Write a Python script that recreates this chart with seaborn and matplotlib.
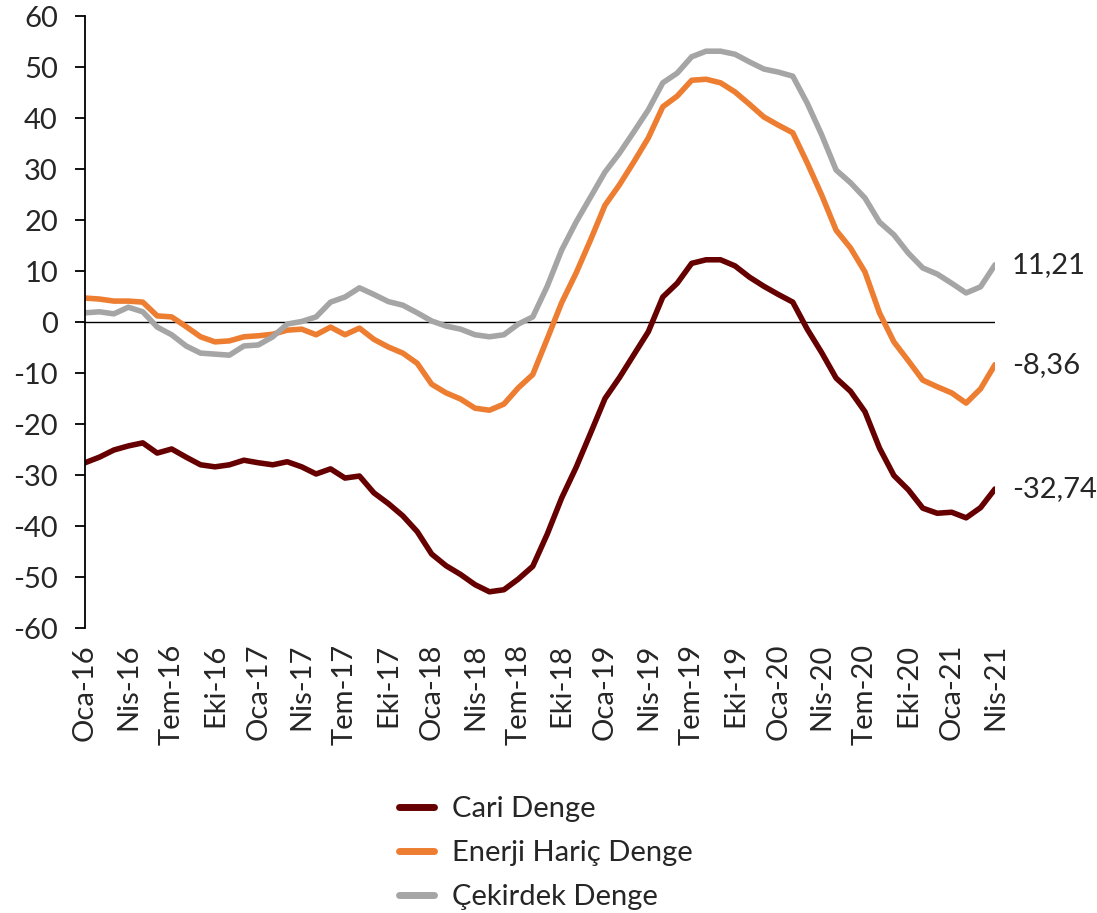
import pandas as pd
import numpy as np
import matplotlib
matplotlib.use('Agg')
import matplotlib.pyplot as plt
import seaborn as sns

# veriler (aylik, Oca-16 .. Nis-21)
cari = [-27.6, -26.5, -25.1, -24.3, -23.7, -25.7, -24.9, -26.5, -28.0, -28.4,
        -28.0, -27.1, -27.6, -28.0, -27.4, -28.4, -29.8, -28.8, -30.6, -30.2,
        -33.5, -35.6, -38.0, -41.1, -45.5, -47.8, -49.5, -51.5, -52.9, -52.5,
        -50.4, -47.9, -41.6, -34.5, -28.5, -21.8, -15.0, -10.9, -6.4, -1.9,
        4.9, 7.6, 11.5, 12.2, 12.2, 11.0, 8.8, 7.0, 5.4, 3.9,
        -1.4, -6.0, -11.0, -13.6, -17.6, -24.7, -30.1, -32.9, -36.5, -37.5,
        -37.3, -38.4, -36.4, -32.74]
enerji = [4.7, 4.5, 4.1, 4.1, 3.9, 1.2, 1.0, -0.9, -2.9, -3.9,
          -3.7, -2.9, -2.7, -2.4, -1.6, -1.4, -2.5, -1.0, -2.5, -1.2,
          -3.4, -4.9, -6.1, -8.1, -12.2, -13.9, -15.1, -16.9, -17.3, -16.1,
          -12.9, -10.3, -3.3, 3.8, 9.6, 16.1, 22.9, 26.9, 31.4, 36.1,
          42.2, 44.3, 47.4, 47.6, 46.9, 45.1, 42.7, 40.2, 38.6, 37.1,
          31.2, 24.9, 18.0, 14.5, 9.8, 1.8, -3.9, -7.6, -11.4, -12.7,
          -13.9, -15.9, -13.1, -8.36]
cekirdek = [1.8, 2.0, 1.6, 2.9, 2.0, -1.0, -2.5, -4.7, -6.1, -6.3,
            -6.5, -4.7, -4.5, -2.9, -0.4, 0.1, 1.0, 3.9, 4.9, 6.7,
            5.4, 4.0, 3.3, 1.8, 0.2, -0.8, -1.4, -2.5, -2.9, -2.5,
            -0.4, 1.0, 7.0, 14.1, 19.6, 24.5, 29.4, 33.1, 37.3, 41.6,
            46.9, 48.8, 52.0, 53.1, 53.1, 52.5, 51.0, 49.6, 49.0, 48.2,
            42.9, 36.7, 29.8, 27.3, 24.3, 19.6, 17.1, 13.5, 10.6, 9.4,
            7.6, 5.7, 6.9, 11.21]

seriler = ['Cari Denge', 'Enerji Hariç Denge', 'Çekirdek Denge']
renkler = ['#660000', '#ED7D31', '#A5A5A5']
etiketler = ['Oca-16', 'Nis-16', 'Tem-16', 'Eki-16', 'Oca-17', 'Nis-17', 'Tem-17', 'Eki-17',
             'Oca-18', 'Nis-18', 'Tem-18', 'Eki-18', 'Oca-19', 'Nis-19', 'Tem-19', 'Eki-19',
             'Oca-20', 'Nis-20', 'Tem-20', 'Eki-20', 'Oca-21', 'Nis-21']
son_etiket = ['-32,74', '-8,36', '11,21']

ay = np.arange(len(cari))
df = pd.DataFrame({'ay': np.tile(ay, 3),
                   'deger': cari + enerji + cekirdek,
                   'seri': np.repeat(seriler, len(cari))})

sns.set_style('white')
plt.rcParams['font.family'] = ['Lato', 'DejaVu Sans']
plt.rcParams['axes.unicode_minus'] = False
FS = 21

fig = plt.figure(figsize=(10.97, 9.13), dpi=100)
ax = fig.add_axes([85 / 1097, 1 - 628 / 913, 910 / 1097, 612 / 913])

sns.lineplot(data=df, x='ay', y='deger', hue='seri', hue_order=seriler,
             palette=renkler, linewidth=4, ax=ax, legend=False)

ax.axhline(0, color='black', lw=1, zorder=1)
ax.set_xlim(0, len(cari) - 1)
ax.set_ylim(-60, 60)
ax.set_yticks(range(-60, 61, 10))
ax.set_xticks(ay[::3])
ax.set_xticklabels(etiketler, rotation=90)
ax.set_xlabel('')
ax.set_ylabel('')
for s in ['top', 'right', 'bottom']:
    ax.spines[s].set_visible(False)
ax.spines['left'].set_color('black')
ax.spines['left'].set_linewidth(1.3)
ax.tick_params(axis='y', left=True, length=7.5, width=1.3, color='black', labelsize=FS, pad=12)
ax.tick_params(axis='x', bottom=False, labelsize=FS, pad=8)

# son deger etiketleri
for vals, txt in zip([cari, enerji, cekirdek], son_etiket):
    ax.annotate(txt, (ay[-1], vals[-1]), xytext=(12, 0), textcoords='offset points',
                va='center', ha='left', fontsize=FS, annotation_clip=False)

handles = [plt.Line2D([], [], color=c, lw=5, solid_capstyle='round') for c in renkler]
fig.legend(handles, seriler, loc='upper left', bbox_to_anchor=(399 / 1097, 1 - 796 / 913),
           frameon=False, fontsize=FS, handlelength=1.2, labelspacing=0.62,
           handletextpad=0.6, borderpad=0, borderaxespad=0)

plt.savefig('out.png', dpi=100)
